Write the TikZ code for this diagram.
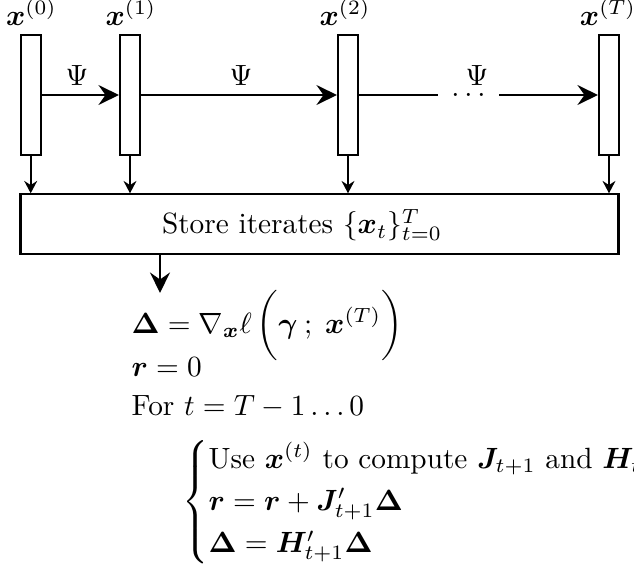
\documentclass[tikz,border=0pt]{standalone}
\usepackage{amsmath}
\usepackage{bm}
\usetikzlibrary{arrows.meta}
\begin{document}
\begin{tikzpicture}[x=0.3413pt,y=-0.3413pt,
  lw/.style={line width=0.7pt},
  vbox/.style={draw,lw,minimum width=6.83pt,minimum height=40.96pt,inner sep=0pt},
  bigbox/.style={draw,lw,minimum width=204.1pt,minimum height=20.48pt,inner sep=0pt},
  lbl/.style={anchor=base,inner sep=0pt},
  psilbl/.style={inner sep=0pt},
  harr/.style={lw,-{Stealth[length=7pt,width=6.8pt,inset=2.4pt]}},
  varr/.style={lw,-{Stealth[length=4.2pt,width=4.4pt,inset=1.4pt]}},
  barr/.style={lw,-{Stealth[length=7pt,width=6.8pt,inset=2.4pt]}},
  mline/.style={anchor=base west,inner sep=0pt}]
\useasboundingbox (0,0) rectangle (634,564);
% iterate boxes
\node[vbox] (b0) at (30.7,95) {};
\node[vbox] (b1) at (130,95) {};
\node[vbox] (b2) at (348,95) {};
\node[vbox] (bT) at (609,95) {};
% labels
\node[lbl] (l0) at (31.5,25) {$\bm x^{(0)}$};
\node[lbl] (l1) at (131,25) {$\bm x^{(1)}$};
\node[lbl] (l2) at (345,25) {$\bm x^{(2)}$};
\node[lbl] (lT) at (608,25) {$\bm x^{(T)}$};
% forward arrows
\draw[harr] (b0) -- (b1);
\draw[harr] (b1) -- (b2);
\node[inner xsep=4.5pt,inner ysep=0pt] (dots) at (468.5,95) {$\ldots$};
\draw[lw] (b2) -- (dots);
\draw[harr] (dots) -- (bT);
\node[psilbl] (p1) at (77,75) {$\Psi$};
\node[psilbl] (p2) at (241,75) {$\Psi$};
\node[psilbl] (p3) at (477,75) {$\Psi$};
% store box
\node[bigbox] (store) at (319.5,224.3) {};
\node[inner sep=0pt] (storetxt) at (302,225) {Store iterates $\{\bm x_t\}_{t=0}^{T}$};
\draw[varr] (b0.south) -- (b0.south |- store.north);
\draw[varr] (b1.south) -- (b1.south |- store.north);
\draw[varr] (b2.south) -- (b2.south |- store.north);
\draw[varr] (bT.south) -- (bT.south |- store.north);
\coordinate (arrEnd) at (160,293);
\draw[barr] (arrEnd |- store.south) -- (arrEnd);
% backward pass
\node[mline] (m1) at (131,333) {$\bm\Delta = \nabla_{\bm x}\ell\,\bigg(\bm\gamma\:;\;\bm x^{(T)}\bigg)$};
\node[mline] (m2) at (131,376) {$\bm r = 0$};
\node[mline] (m3) at (131,415) {For $t = T-1\ldots 0$};
\node[anchor=west,inner sep=0pt] (m4) at (182,502) {$\begin{cases}
  \text{Use } \bm x^{(t)} \text{ to compute } \bm J_{t+1} \text{ and } \bm H_{t+1}\\
  \bm r = \bm r + \bm J'_{t+1}\bm\Delta\\
  \bm\Delta = \bm H'_{t+1}\bm\Delta
\end{cases}$};
\end{tikzpicture}
\end{document}
